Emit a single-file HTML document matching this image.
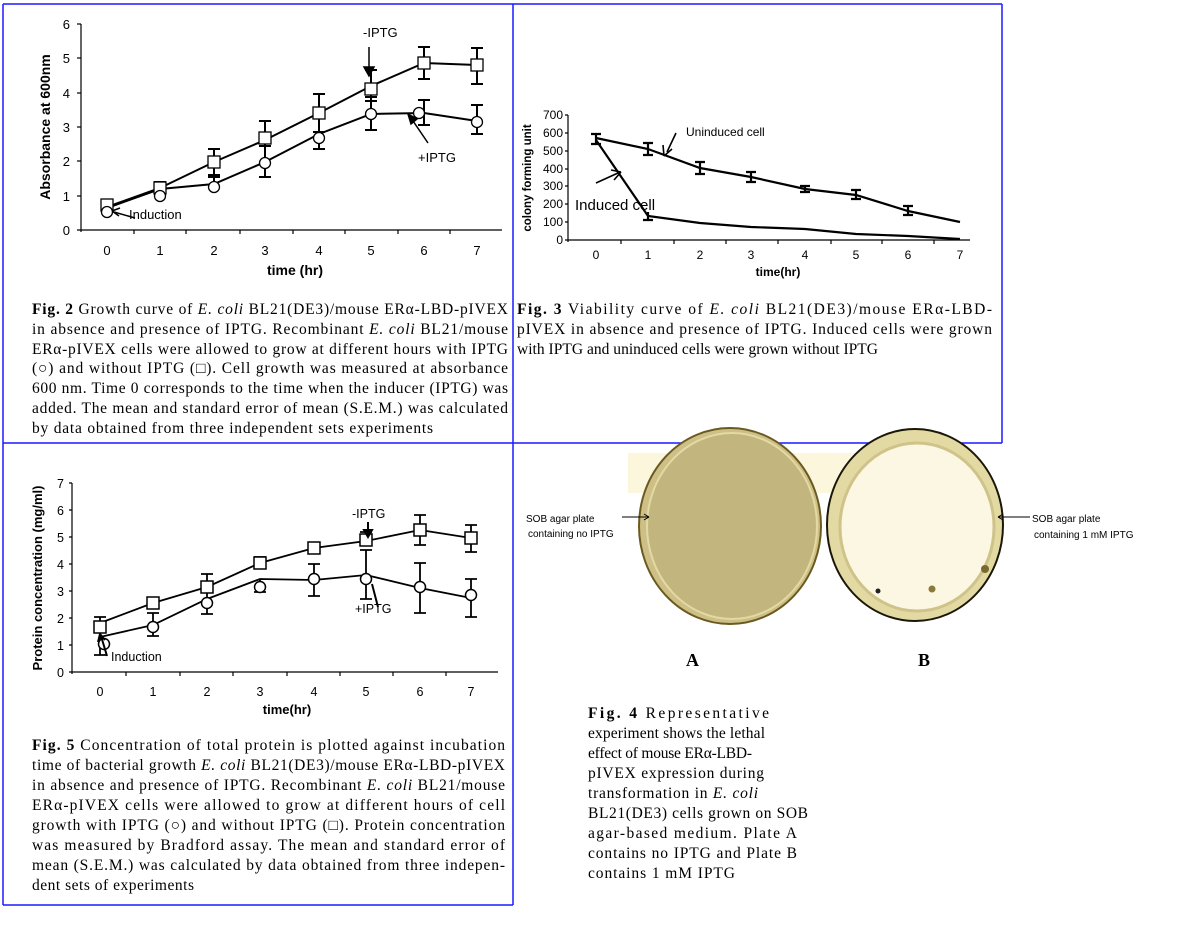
<!DOCTYPE html>
<html><head><meta charset="utf-8"><style>
html,body{margin:0;padding:0;background:#fff;}
svg{display:block;}
.a{font-family:"Liberation Sans",sans-serif;fill:#000;}
.s{font-family:"Liberation Serif",serif;font-size:15.5px;fill:#000;}
</style></head><body>
<svg width="1177" height="931" viewBox="0 0 1177 931" xmlns="http://www.w3.org/2000/svg">
<g stroke="#1a1aff" stroke-width="1.5" fill="none">
<line x1="3" y1="4" x2="1002" y2="4"/>
<line x1="3" y1="4" x2="3" y2="905"/>
<line x1="513" y1="4" x2="513" y2="905"/>
<line x1="1002" y1="4" x2="1002" y2="443"/>
<line x1="3" y1="443" x2="1002" y2="443"/>
<line x1="3" y1="905" x2="513" y2="905"/>
</g>

<!-- ============ CHART 1 ============ -->
<g stroke="#000" stroke-width="1.2" fill="none">
<line x1="81" y1="24" x2="81" y2="232"/>
<line x1="77" y1="230" x2="502" y2="230"/>
<line x1="77" y1="24" x2="81" y2="24"/><line x1="77" y1="58" x2="81" y2="58"/><line x1="77" y1="93" x2="81" y2="93"/><line x1="77" y1="127" x2="81" y2="127"/><line x1="77" y1="161" x2="81" y2="161"/><line x1="77" y1="196" x2="81" y2="196"/>
<line x1="134" y1="230" x2="134" y2="234"/><line x1="186" y1="230" x2="186" y2="234"/><line x1="240" y1="230" x2="240" y2="234"/><line x1="293" y1="230" x2="293" y2="234"/><line x1="345" y1="230" x2="345" y2="234"/><line x1="398" y1="230" x2="398" y2="234"/><line x1="450" y1="230" x2="450" y2="234"/>
</g>
<g class="a" font-size="13" text-anchor="end">
<text x="70" y="235">0</text><text x="70" y="201">1</text><text x="70" y="166">2</text><text x="70" y="132">3</text><text x="70" y="98">4</text><text x="70" y="63">5</text><text x="70" y="29">6</text>
</g>
<g class="a" font-size="13" text-anchor="middle">
<text x="107" y="255">0</text><text x="160" y="255">1</text><text x="214" y="255">2</text><text x="265" y="255">3</text><text x="319" y="255">4</text><text x="371" y="255">5</text><text x="424" y="255">6</text><text x="477" y="255">7</text>
</g>
<text class="a" x="295" y="275" font-size="14" font-weight="bold" text-anchor="middle">time (hr)</text>
<text class="a" transform="translate(50,127) rotate(-90)" font-size="14" font-weight="bold" text-anchor="middle">Absorbance at 600nm</text>
<g stroke="#000" stroke-width="2" fill="none">
<polyline points="107,207 160,188 214,162 265,140 319,113 371,86 424,63 477,65"/>
<polyline points="107,208 160,189 214,184 265,162 319,134 371,114 424,113 477,121"/>
<path d="M160,192V182M154,182h12M154,192h12 M214,175V149M208,149h12M208,175h12 M265,146V121M259,121h12M259,146h12 M319,132V94M313,94h12M313,132h12 M371,101V70M365,70h12M365,101h12 M424,79V47M418,47h12M418,79h12 M477,84V48M471,48h12M471,84h12"/>
<path d="M214,187V177M208,177h12 M265,177V144M259,177h12 M319,149V132M313,149h12 M371,130V97M365,130h12M365,97h12 M424,125V100M418,125h12M418,100h12 M477,134V105M471,134h12M471,105h12"/>
</g>
<g stroke="#000" stroke-width="1.3" fill="#fff">
<rect x="101" y="199" width="12" height="12"/><rect x="154" y="182" width="12" height="12"/><rect x="208" y="156" width="12" height="12"/><rect x="259" y="132" width="12" height="12"/><rect x="313" y="107" width="12" height="12"/><rect x="365" y="83" width="12" height="12"/><rect x="418" y="57" width="12" height="12"/><rect x="471" y="59" width="12" height="12"/>
<circle cx="107" cy="212" r="5.5"/><circle cx="160" cy="196" r="5.5"/><circle cx="214" cy="187" r="5.5"/><circle cx="265" cy="163" r="5.5"/><circle cx="319" cy="138" r="5.5"/><circle cx="371" cy="114" r="5.5"/><circle cx="419" cy="113" r="5.5"/><circle cx="477" cy="122" r="5.5"/>
</g>
<g stroke="#000" stroke-width="1.5" fill="none">
<line x1="369" y1="47" x2="369" y2="74"/><path d="M364,67 L369,76 L374,67Z" fill="#000"/>
<line x1="428" y1="143" x2="411" y2="118"/><path d="M408,114 L417,119 L411,124Z" fill="#000"/>
<line x1="135" y1="218" x2="114" y2="212"/><path d="M112,211 L120,208 M112,211 L119,216"/>
</g>
<text class="a" x="363" y="37" font-size="13">-IPTG</text>
<text class="a" x="418" y="162" font-size="13">+IPTG</text>
<text class="a" x="129" y="219" font-size="13">Induction</text>

<g class="s">
<text x="32" y="314" textLength="476" lengthAdjust="spacing"><tspan font-weight="bold">Fig. 2</tspan>  Growth curve of <tspan font-style="italic">E. coli</tspan> BL21(DE3)/mouse ERα-LBD-pIVEX</text>
<text x="32" y="334" textLength="476" lengthAdjust="spacing">in absence and presence of IPTG. Recombinant <tspan font-style="italic">E. coli</tspan> BL21/mouse</text>
<text x="32" y="354" textLength="476" lengthAdjust="spacing">ERα-pIVEX cells were allowed to grow at different hours with IPTG</text>
<text x="32" y="373" textLength="476" lengthAdjust="spacing">(○) and without IPTG (□). Cell growth was measured at absorbance</text>
<text x="32" y="393" textLength="476" lengthAdjust="spacing">600 nm. Time 0 corresponds to the time when the inducer (IPTG) was</text>
<text x="32" y="413" textLength="476" lengthAdjust="spacing">added. The mean and standard error of mean (S.E.M.) was calculated</text>
<text x="32" y="433" textLength="401" lengthAdjust="spacing">by data obtained from three independent sets experiments</text>
</g>

<!-- ============ CHART 2 ============ -->
<g stroke="#000" stroke-width="1.2" fill="none">
<line x1="568" y1="115" x2="568" y2="242"/>
<line x1="565" y1="240" x2="970" y2="240"/>
<path d="M565,115h3M565,133h3M565,151h3M565,169h3M565,186h3M565,204h3M565,222h3"/>
<path d="M621,240v4M674,240v4M726,240v4M778,240v4M831,240v4M882,240v4M934,240v4"/>
</g>
<g class="a" font-size="12" text-anchor="end">
<text x="563" y="244">0</text><text x="563" y="226">100</text><text x="563" y="208">200</text><text x="563" y="190">300</text><text x="563" y="173">400</text><text x="563" y="155">500</text><text x="563" y="137">600</text><text x="563" y="119">700</text>
</g>
<g class="a" font-size="12" text-anchor="middle">
<text x="596" y="259">0</text><text x="648" y="259">1</text><text x="700" y="259">2</text><text x="751" y="259">3</text><text x="805" y="259">4</text><text x="856" y="259">5</text><text x="908" y="259">6</text><text x="960" y="259">7</text>
</g>
<text class="a" x="778" y="276" font-size="12" font-weight="bold" text-anchor="middle">time(hr)</text>
<text class="a" transform="translate(531,178) rotate(-90)" font-size="11.5" font-weight="bold" text-anchor="middle">colony forming unit</text>
<g stroke="#000" stroke-width="2.2" fill="none">
<polyline points="596,138 648,149 700,168 751,177 805,189 856,195 908,211 960,222"/>
<polyline points="596,140 648,216 700,223 751,227 805,229 856,234 908,236 960,239"/>
<path d="M596,134V144M591,134h10M591,144h10 M648,143V155M643,143h10M643,155h10 M700,162V174M695,162h10M695,174h10 M751,172V182M746,172h10M746,182h10 M805,186V192M800,186h10M800,192h10 M856,190V199M851,190h10M851,199h10 M908,206V215M903,206h10M903,215h10 M648,212V220M643,220h10"/>
</g>
<g stroke="#000" stroke-width="1.6" fill="none">
<line x1="676" y1="133" x2="667" y2="152"/><path d="M664,156 L663,145 M664,156 L672,149"/>
<line x1="596" y1="183" x2="618" y2="173"/><path d="M621,172 L611,170 M621,172 L614,180"/>
</g>
<text class="a" x="686" y="136" font-size="12">Uninduced cell</text>
<text class="a" x="575" y="210" font-size="15">Induced cell</text>

<g class="s">
<text x="517" y="314" textLength="475" lengthAdjust="spacing"><tspan font-weight="bold">Fig. 3</tspan>  Viability curve of <tspan font-style="italic">E. coli</tspan> BL21(DE3)/mouse ERα-LBD-</text>
<text x="517" y="334" textLength="475" lengthAdjust="spacing">pIVEX in absence and presence of IPTG. Induced cells were grown</text>
<text x="517" y="354" textLength="361" lengthAdjust="spacing">with IPTG and uninduced cells were grown without IPTG</text>
</g>

<!-- ============ CHART 3 ============ -->
<g stroke="#000" stroke-width="1.2" fill="none">
<line x1="72" y1="483" x2="72" y2="674"/>
<line x1="69" y1="672" x2="498" y2="672"/>
<path d="M69,483h3M69,510h3M69,537h3M69,564h3M69,591h3M69,618h3M69,645h3"/>
<path d="M126,672v4M180,672v4M233,672v4M287,672v4M340,672v4M393,672v4M446,672v4"/>
</g>
<g class="a" font-size="12.5" text-anchor="end">
<text x="64" y="677">0</text><text x="64" y="650">1</text><text x="64" y="623">2</text><text x="64" y="596">3</text><text x="64" y="569">4</text><text x="64" y="542">5</text><text x="64" y="515">6</text><text x="64" y="488">7</text>
</g>
<g class="a" font-size="12.5" text-anchor="middle">
<text x="100" y="696">0</text><text x="153" y="696">1</text><text x="207" y="696">2</text><text x="260" y="696">3</text><text x="314" y="696">4</text><text x="366" y="696">5</text><text x="420" y="696">6</text><text x="471" y="696">7</text>
</g>
<text class="a" x="287" y="714" font-size="13" font-weight="bold" text-anchor="middle">time(hr)</text>
<text class="a" transform="translate(42,578) rotate(-90)" font-size="13" font-weight="bold" text-anchor="middle">Protein concentration (mg/ml)</text>
<g stroke="#000" stroke-width="1.8" fill="none">
<polyline points="100,623 153,603 207,587 260,563 314,548 366,541 420,530 471,538"/>
<polyline points="100,637 153,625 207,599 260,579 314,580 366,575 420,588 471,598"/>
<path d="M100,631V617M94,617h12M94,631h12 M207,599V574M201,574h12 M260,566V557M254,557h12 M314,552V544M308,544h12 M366,543V532M360,532h12 M420,545V515M414,545h12M414,515h12 M471,552V525M465,552h12M465,525h12"/>
<path d="M100,655V630M94,655h12 M153,636V613M147,636h12M147,613h12 M207,614V599M201,614h12 M260,592V579M254,592h12 M314,596V564M308,596h12M308,564h12 M366,599V550M360,599h12M360,550h12 M420,613V563M414,613h12M414,563h12 M471,617V579M465,617h12M465,579h12"/>
</g>
<g stroke="#000" stroke-width="1.5" fill="#fff">
<rect x="94" y="621" width="12" height="12"/><rect x="147" y="597" width="12" height="12"/><rect x="201" y="581" width="12" height="12"/><rect x="254" y="557" width="12" height="12"/><rect x="308" y="542" width="12" height="12"/><rect x="360" y="534" width="12" height="12"/><rect x="414" y="524" width="12" height="12"/><rect x="465" y="532" width="12" height="12"/>
<circle cx="104" cy="644" r="5.5"/><circle cx="153" cy="627" r="5.5"/><circle cx="207" cy="603" r="5.5"/><circle cx="260" cy="587" r="5.5"/><circle cx="314" cy="579" r="5.5"/><circle cx="366" cy="579" r="5.5"/><circle cx="420" cy="587" r="5.5"/><circle cx="471" cy="595" r="5.5"/>
</g>
<g stroke="#000" stroke-width="2" fill="none">
<line x1="368" y1="522" x2="368" y2="535"/><path d="M364,530 L368,537 L372,530Z" fill="#000"/>
<line x1="378" y1="607" x2="372" y2="584"/>
<line x1="107" y1="656" x2="101" y2="636"/><path d="M100,634 L98,642 M100,634 L105,640"/>
</g>
<text class="a" x="352" y="518" font-size="12.5">-IPTG</text>
<text class="a" x="355" y="613" font-size="12.5">+IPTG</text>
<text class="a" x="111" y="661" font-size="12.5">Induction</text>

<g class="s">
<text x="32" y="750" textLength="473" lengthAdjust="spacing"><tspan font-weight="bold">Fig. 5</tspan>  Concentration of total protein is plotted against incubation</text>
<text x="32" y="770" textLength="473" lengthAdjust="spacing">time of bacterial growth <tspan font-style="italic">E. coli</tspan> BL21(DE3)/mouse ERα-LBD-pIVEX</text>
<text x="32" y="790" textLength="473" lengthAdjust="spacing">in absence and presence of IPTG. Recombinant <tspan font-style="italic">E. coli</tspan> BL21/mouse</text>
<text x="32" y="810" textLength="473" lengthAdjust="spacing">ERα-pIVEX cells were allowed to grow at different hours of cell</text>
<text x="32" y="830" textLength="473" lengthAdjust="spacing">growth with IPTG (○) and without IPTG (□). Protein concentration</text>
<text x="32" y="850" textLength="473" lengthAdjust="spacing">was measured by Bradford assay. The mean and standard error of</text>
<text x="32" y="870" textLength="473" lengthAdjust="spacing">mean (S.E.M.) was calculated by data obtained from three indepen-</text>
<text x="32" y="890" textLength="162" lengthAdjust="spacing">dent sets of experiments</text>
</g>

<!-- ============ FIG 4 plates ============ -->
<rect x="628" y="453" width="236" height="40" fill="#fbf6dc"/>
<ellipse cx="730" cy="526" rx="91" ry="98" fill="#cdbf86" stroke="#6b5a20" stroke-width="2"/>
<ellipse cx="732" cy="526" rx="85" ry="93" fill="#c2b67e" stroke="#e2d9a4" stroke-width="2"/>
<ellipse cx="915" cy="525" rx="88" ry="96" fill="#e3d9a2" stroke="#1a1608" stroke-width="2"/>
<ellipse cx="917" cy="527" rx="77" ry="84" fill="#fbf7e2" stroke="#cfc38a" stroke-width="3"/>
<circle cx="878" cy="591" r="2.5" fill="#222"/>
<circle cx="932" cy="589" r="3.5" fill="#8a7a3a"/>
<circle cx="985" cy="569" r="4" fill="#7a6a30"/>
<g stroke="#000" stroke-width="1" fill="none">
<line x1="622" y1="517" x2="649" y2="517"/><path d="M649,517 L644,514 M649,517 L644,520"/>
<line x1="998" y1="517" x2="1030" y2="517"/><path d="M998,517 L1003,514 M998,517 L1003,520"/>
</g>
<g class="a" font-size="10">
<text x="526" y="522">SOB agar plate</text>
<text x="528" y="537">containing no IPTG</text>
<text x="1032" y="522">SOB agar plate</text>
<text x="1034" y="538">containing 1 mM IPTG</text>
</g>
<text x="686" y="666" font-family="Liberation Serif,serif" font-size="18" font-weight="bold">A</text>
<text x="918" y="666" font-family="Liberation Serif,serif" font-size="18" font-weight="bold">B</text>
<g class="s">
<text x="588" y="718" textLength="181" lengthAdjust="spacing"><tspan font-weight="bold">Fig. 4</tspan>  Representative</text>
<text x="588" y="738" textLength="177" lengthAdjust="spacing">experiment shows the lethal</text>
<text x="588" y="758" textLength="164" lengthAdjust="spacing">effect of mouse ERα-LBD-</text>
<text x="588" y="778" textLength="176" lengthAdjust="spacing">pIVEX expression during</text>
<text x="588" y="798" textLength="170" lengthAdjust="spacing">transformation in <tspan font-style="italic">E. coli</tspan></text>
<text x="588" y="818" textLength="220" lengthAdjust="spacing">BL21(DE3) cells grown on SOB</text>
<text x="588" y="838" textLength="209" lengthAdjust="spacing">agar-based medium. Plate A</text>
<text x="588" y="858" textLength="209" lengthAdjust="spacing">contains no IPTG and Plate B</text>
<text x="588" y="878" textLength="147" lengthAdjust="spacing">contains 1 mM IPTG</text>
</g>
</svg>
</body></html>
